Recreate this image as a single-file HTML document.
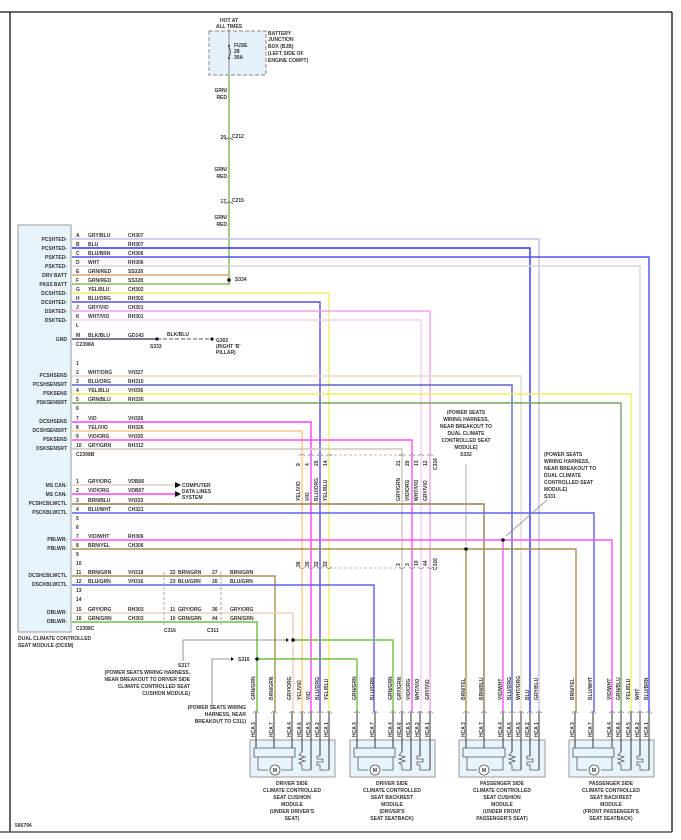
<!DOCTYPE html>
<html><head><meta charset="utf-8"><style>
html,body{margin:0;padding:0;background:#fff;}
svg{display:block;}
text{font-family:"Liberation Sans",sans-serif;font-size:5px;font-weight:bold;fill:#333;}
.r{text-anchor:end;}
.m{text-anchor:middle;}
</style></head><body>
<svg width="681" height="840" viewBox="0 0 681 840" xmlns="http://www.w3.org/2000/svg">
<rect x="0" y="0" width="681" height="840" fill="#fff"/>
<!-- border -->
<line x1="0" y1="12" x2="672" y2="12" stroke="#111" stroke-width="1.3"/>
<line x1="10" y1="12" x2="10" y2="832" stroke="#111" stroke-width="1.3"/>
<line x1="672" y1="12" x2="672" y2="832" stroke="#111" stroke-width="1.3"/>
<line x1="0" y1="832" x2="672" y2="832" stroke="#555" stroke-width="1.5"/>

<!-- fuse box -->
<rect x="209" y="31" width="57" height="44" fill="#e6f2fb" stroke="#888" stroke-dasharray="4,2"/>
<text class="m" x="229" y="22">HOT AT</text>
<text class="m" x="229" y="28">ALL TIMES</text>
<line x1="229" y1="29" x2="229" y2="75" stroke="#888"/>
<circle cx="229" cy="46" r="1" fill="#222"/><circle cx="229" cy="58" r="1" fill="#222"/>
<path d="M229 47 q3 5 0 10" fill="none" stroke="#666"/>
<text x="234" y="47">FUSE</text><text x="234" y="53">28</text><text x="234" y="59">30A</text>
<text x="268" y="35">BATTERY</text><text x="268" y="41">JUNCTION</text><text x="268" y="48">BOX (BJB)</text><text x="268" y="55">(LEFT SIDE OF</text><text x="268" y="62">ENGINE COMPT)</text>
<line x1="229" y1="75" x2="229" y2="285" stroke="#8cbc60" stroke-width="1.5"/>
<text class="r" x="227" y="92">GRN/</text><text class="r" x="227" y="99">RED</text>
<text class="r" x="227" y="171">GRN/</text><text class="r" x="227" y="178">RED</text>
<text class="r" x="227" y="219">GRN/</text><text class="r" x="227" y="226">RED</text>
<path d="M225 140 q4 -4 8 0 M225 204 q4 -4 8 0" fill="none" stroke="#777"/>
<text class="r" x="226" y="139">29</text><text x="232" y="138">C212</text>
<text class="r" x="226" y="203">17</text><text x="232" y="202">C215</text>

<!-- module -->
<rect x="18" y="225" width="53" height="407" fill="#e8f4fc" stroke="#999"/>
<g>
<text class="r" x="67" y="241">PCSHTED-</text><text class="r" x="67" y="250">PCSHTED-</text><text class="r" x="67" y="259">PSKTED-</text><text class="r" x="67" y="268">PSKTED-</text><text class="r" x="67" y="277">DRV BATT</text><text class="r" x="67" y="286">PASS BATT</text><text class="r" x="67" y="295">DCSHTED-</text><text class="r" x="67" y="304">DCSHTED-</text><text class="r" x="67" y="313">DSKTED-</text><text class="r" x="67" y="322">DSKTED-</text><text class="r" x="67" y="341">GND</text>
<text class="r" x="67" y="377">PCSHSENS</text><text class="r" x="67" y="386">PCSHSENSRT</text><text class="r" x="67" y="395">PSKSENS</text><text class="r" x="67" y="404">PSKSENSRT</text><text class="r" x="67" y="423">DCSHSENS</text><text class="r" x="67" y="432">DCSHSENSRT</text><text class="r" x="67" y="441">PSKSENS</text><text class="r" x="67" y="450">DSKSENSRT</text>
<text class="r" x="67" y="487">MS CAN-</text><text class="r" x="67" y="496">MS CAN-</text><text class="r" x="67" y="505">PCSHCBLWCTL</text><text class="r" x="67" y="514">PSCKBLWCTL</text><text class="r" x="67" y="541">PBLWR-</text><text class="r" x="67" y="550">PBLWR-</text><text class="r" x="67" y="577">DCSHCBLWCTL</text><text class="r" x="67" y="586">DSCKBLWCTL</text><text class="r" x="67" y="614">DBLWR-</text><text class="r" x="67" y="623">DBLWR-</text>
</g>
<text x="18" y="640">DUAL CLIMATE CONTROLLED</text>
<text x="18" y="647">SEAT MODULE (DCSM)</text>
<text x="15" y="827">566794</text>

<!-- horizontal wires connector A -->
<g fill="none" stroke-width="1.4">
<path d="M72 239 H539 V712" stroke="#c0c0e8"/>
<path d="M72 248 H530 V712" stroke="#3030ff"/>
<path d="M72 257 H649 V712" stroke="#5050ee"/>
<path d="M72 266 H640 V712" stroke="#d8d8d8"/>
<path d="M72 275 H229" stroke="#e8a070"/>
<path d="M72 284 H229" stroke="#8cbc60"/>
<path d="M72 293 H329 V712" stroke="#eeee70"/>
<path d="M72 302 H320 V712" stroke="#5a50e0"/>
<path d="M72 311 H430 V712" stroke="#f0a0f0"/>
<path d="M72 320 H421 V712" stroke="#f4cdf4"/>
<path d="M72 339 H157" stroke="#555570"/>
<path d="M157 339 H212" stroke="#555" stroke-dasharray="4,2" stroke-width="1"/>
<!-- connector B -->
<path d="M72 376 H521 V712" stroke="#e8d8c8"/>
<path d="M72 385 H512 V712" stroke="#6060d0"/>
<path d="M72 394 H631 V712" stroke="#eeee60"/>
<path d="M72 403 H621 V712" stroke="#70a860"/>
<path d="M72 422 H311 V712" stroke="#ff40ff"/>
<path d="M72 431 H302 V712" stroke="#ffc880"/>
<path d="M72 440 H412 V712" stroke="#ff50ff"/>
<path d="M72 449 H402 V712" stroke="#cfc6b8"/>
<!-- connector C -->
<path d="M72 485 H175" stroke="#e0d0c8"/>
<path d="M72 494 H175" stroke="#ff40ff"/>
<path d="M72 504 H484 V712" stroke="#9a7a50"/>
<path d="M72 513 H594 V712" stroke="#6060ee"/>
<path d="M72 540 H612 V712" stroke="#ff50ff"/>
<path d="M503 540 V712" stroke="#ff50ff"/>
<path d="M72 549 H576 V712" stroke="#aa9050"/>
<path d="M466 549 V712" stroke="#aa9050"/>
<path d="M72 576 H275 V712" stroke="#aa9050"/>
<path d="M72 585 H374 V712" stroke="#6060ee"/>
<path d="M72 613 H293 V712" stroke="#f0d0b8"/>
<path d="M72 622 H257 V712" stroke="#70c040"/>
<path d="M293 640 H393 V712" stroke="#70c040"/>
<path d="M257 659 H357 V712" stroke="#70c040"/>
</g>
<circle cx="229" cy="280" r="1.8" fill="#111"/><text x="235" y="281">S334</text>
<circle cx="157" cy="339" r="1.6" fill="#111"/><text x="150" y="348">S333</text>
<circle cx="212" cy="339" r="1.6" fill="#111"/><text x="216" y="342">G302</text><text x="216" y="348">(RIGHT 'B'</text><text x="216" y="354">PILLAR)</text>
<path d="M175 482 l6 3 l-6 3z M175 491 l6 3 l-6 3z" fill="#111"/>
<text x="182" y="487">COMPUTER</text><text x="182" y="493">DATA LINES</text><text x="182" y="499">SYSTEM</text>

<!-- module row labels -->
<g>
<text x="76" y="237">A</text><text x="88" y="237">GRY/BLU</text><text x="128" y="237">CH307</text>
<text x="76" y="246">B</text><text x="88" y="246">BLU</text><text x="128" y="246">RH307</text>
<text x="76" y="255">C</text><text x="88" y="255">BLU/BRN</text><text x="128" y="255">CH306</text>
<text x="76" y="264">D</text><text x="88" y="264">WHT</text><text x="128" y="264">RH306</text>
<text x="76" y="273">E</text><text x="88" y="273">GRN/RED</text><text x="128" y="273">SS328</text>
<text x="76" y="282">F</text><text x="88" y="282">GRN/RED</text><text x="128" y="282">SS328</text>
<text x="76" y="291">G</text><text x="88" y="291">YEL/BLU</text><text x="128" y="291">CH302</text>
<text x="76" y="300">H</text><text x="88" y="300">BLU/ORG</text><text x="128" y="300">RH302</text>
<text x="76" y="309">J</text><text x="88" y="309">GRY/VIO</text><text x="128" y="309">CH301</text>
<text x="76" y="318">K</text><text x="88" y="318">WHT/VIO</text><text x="128" y="318">RH301</text>
<text x="76" y="327">L</text>
<text x="76" y="337">M</text><text x="88" y="337">BLK/BLU</text><text x="128" y="337">GD143</text><text x="167" y="336">BLK/BLU</text>
<text x="76" y="346">C2398A</text>
<text x="76" y="365">1</text>
<text x="76" y="374">2</text><text x="88" y="374">WHT/ORG</text><text x="128" y="374">VH327</text>
<text x="76" y="383">3</text><text x="88" y="383">BLU/ORG</text><text x="128" y="383">RH310</text>
<text x="76" y="392">4</text><text x="88" y="392">YEL/BLU</text><text x="128" y="392">VH336</text>
<text x="76" y="401">5</text><text x="88" y="401">GRN/BLU</text><text x="128" y="401">RH330</text>
<text x="76" y="410">6</text>
<text x="76" y="420">7</text><text x="88" y="420">VIO</text><text x="128" y="420">VH326</text>
<text x="76" y="429">8</text><text x="88" y="429">YEL/VIO</text><text x="128" y="429">RH326</text>
<text x="76" y="438">9</text><text x="88" y="438">VIO/ORG</text><text x="128" y="438">VH335</text>
<text x="76" y="447">10</text><text x="88" y="447">GRY/GRN</text><text x="128" y="447">RH312</text>
<text x="76" y="456">C2398B</text>
<text x="76" y="483">1</text><text x="88" y="483">GRY/ORG</text><text x="128" y="483">VDB06</text>
<text x="76" y="492">2</text><text x="88" y="492">VIO/ORG</text><text x="128" y="492">VDB07</text>
<text x="76" y="502">3</text><text x="88" y="502">BRN/BLU</text><text x="128" y="502">VH333</text>
<text x="76" y="511">4</text><text x="88" y="511">BLU/WHT</text><text x="128" y="511">CH321</text>
<text x="76" y="520">5</text><text x="76" y="529">6</text>
<text x="76" y="538">7</text><text x="88" y="538">VIO/WHT</text><text x="128" y="538">RH306</text>
<text x="76" y="547">8</text><text x="88" y="547">BRN/YEL</text><text x="128" y="547">CH306</text>
<text x="76" y="556">9</text><text x="76" y="565">10</text>
<text x="76" y="574">11</text><text x="88" y="574">BRN/GRN</text><text x="128" y="574">VH318</text>
<text x="76" y="583">12</text><text x="88" y="583">BLU/GRN</text><text x="128" y="583">VH316</text>
<text x="76" y="592">13</text><text x="76" y="601">14</text>
<text x="76" y="611">15</text><text x="88" y="611">GRY/ORG</text><text x="128" y="611">RH303</text>
<text x="76" y="620">16</text><text x="88" y="620">GRN/GRN</text><text x="128" y="620">CH303</text>
<text x="76" y="630">C2398C</text>
</g>
<!-- C316 / C311 -->
<g>
<line x1="164" y1="572" x2="164" y2="626" stroke="#aaa" stroke-dasharray="3,2"/>
<line x1="221" y1="572" x2="221" y2="626" stroke="#aaa" stroke-dasharray="3,2"/>
<text x="170" y="574">22</text><text x="178" y="574">BRN/GRN</text><text x="212" y="574">27</text><text x="230" y="574">BRN/GRN</text>
<text x="170" y="583">23</text><text x="178" y="583">BLU/GRN</text><text x="212" y="583">26</text><text x="230" y="583">BLU/GRN</text>
<text x="170" y="611">11</text><text x="178" y="611">GRY/ORG</text><text x="212" y="611">36</text><text x="230" y="611">GRY/ORG</text>
<text x="170" y="620">10</text><text x="178" y="620">GRN/GRN</text><text x="212" y="620">44</text><text x="230" y="620">GRN/GRN</text>
<text x="164" y="632">C316</text><text x="207" y="632">C311</text>
</g>
<!-- connectors at 455 and 568 -->
<line x1="329" y1="455" x2="402" y2="455" stroke="#bbb" stroke-dasharray="3,2"/>
<line x1="329" y1="568" x2="402" y2="568" stroke="#bbb" stroke-dasharray="3,2"/>
<g fill="none" stroke="#888" stroke-width="0.8">
<path d="M299 456 q3 -3 6 0 M308 456 q3 -3 6 0 M317 456 q3 -3 6 0 M326 456 q3 -3 6 0 M399 456 q3 -3 6 0 M409 456 q3 -3 6 0 M418 456 q3 -3 6 0 M427 456 q3 -3 6 0"/>
<path d="M299 567 q3 3 6 0 M308 567 q3 3 6 0 M317 567 q3 3 6 0 M326 567 q3 3 6 0 M399 567 q3 3 6 0 M409 567 q3 3 6 0 M418 567 q3 3 6 0 M427 567 q3 3 6 0"/>
</g>
<g>
<text transform="translate(300,466) rotate(-90)">9</text><text transform="translate(309,466) rotate(-90)">4</text><text transform="translate(318,466) rotate(-90)">25</text><text transform="translate(327,466) rotate(-90)">14</text>
<text transform="translate(400,466) rotate(-90)">21</text><text transform="translate(409,466) rotate(-90)">20</text><text transform="translate(418,466) rotate(-90)">13</text><text transform="translate(427,466) rotate(-90)">12</text><text transform="translate(437,470) rotate(-90)">C316</text>
<text transform="translate(300,501) rotate(-90)">YEL/VIO</text><text transform="translate(309,501) rotate(-90)">VIO</text><text transform="translate(318,501) rotate(-90)">BLU/ORG</text><text transform="translate(327,501) rotate(-90)">YEL/BLU</text>
<text transform="translate(400,501) rotate(-90)">GRY/GRN</text><text transform="translate(409,501) rotate(-90)">VIO/ORG</text><text transform="translate(418,501) rotate(-90)">WHT/VIO</text><text transform="translate(427,501) rotate(-90)">GRY/VIO</text>
<text transform="translate(300,567) rotate(-90)">36</text><text transform="translate(309,567) rotate(-90)">35</text><text transform="translate(318,567) rotate(-90)">32</text><text transform="translate(327,567) rotate(-90)">33</text>
<text transform="translate(400,566) rotate(-90)">3</text><text transform="translate(409,566) rotate(-90)">3</text><text transform="translate(418,566) rotate(-90)">10</text><text transform="translate(427,566) rotate(-90)">44</text><text transform="translate(437,570) rotate(-90)">C316</text>
</g>
<!-- splices -->
<circle cx="503" cy="540" r="1.8" fill="#111"/>
<circle cx="466" cy="549" r="1.8" fill="#111"/>
<line x1="466" y1="464" x2="466" y2="545" stroke="#999" stroke-width="0.8"/>
<g class="m">
<text class="m" x="466" y="414">(POWER SEATS</text><text class="m" x="466" y="421">WIRING HARNESS,</text><text class="m" x="466" y="428">NEAR BREAKOUT TO</text><text class="m" x="466" y="435">DUAL CLIMATE</text><text class="m" x="466" y="442">CONTROLLED SEAT</text><text class="m" x="466" y="449">MODULE)</text><text class="m" x="466" y="456">S332</text>
</g>
<text x="544" y="456">(POWER SEATS</text><text x="544" y="463">WIRING HARNESS,</text><text x="544" y="470">NEAR BREAKOUT TO</text><text x="544" y="477">DUAL CLIMATE</text><text x="544" y="484">CONTROLLED SEAT</text><text x="544" y="491">MODULE)</text><text x="544" y="498">S331</text>
<line x1="547" y1="500" x2="506" y2="536" stroke="#888" stroke-width="0.8"/>
<circle cx="293" cy="640" r="1.8" fill="#111"/>
<circle cx="257" cy="659" r="1.8" fill="#111"/>
<path d="M183 661 V640 H288" fill="none" stroke="#777" stroke-width="0.8"/><path d="M286 638 l3 2 l-3 2z" fill="#111"/>
<path d="M212 706 V659 H233" fill="none" stroke="#777" stroke-width="0.8"/><path d="M231 657 l3 2 l-3 2z" fill="#111"/>
<text x="238" y="661">S316</text>
<text x="178" y="667">S317</text>
<text class="r" x="190" y="674">(POWER SEATS WIRING HARNESS,</text>
<text class="r" x="190" y="681">NEAR BREAKOUT TO DRIVER SIDE</text>
<text class="r" x="190" y="688">CLIMATE CONTROLLED SEAT</text>
<text class="r" x="190" y="695">CUSHION MODULE)</text>
<text class="r" x="246" y="709">(POWER SEATS WIRING</text>
<text class="r" x="246" y="716">HARNESS, NEAR</text>
<text class="r" x="246" y="723">BREAKOUT TO C311)</text>

<!-- bottom modules -->
<g id="mods">
<!-- box1 -->
<rect x="250" y="740" width="85" height="37" fill="#e8f4fc" stroke="#999"/>
<rect x="350" y="740" width="85" height="37" fill="#e8f4fc" stroke="#999"/>
<rect x="459" y="740" width="86" height="37" fill="#e8f4fc" stroke="#999"/>
<rect x="569" y="740" width="85" height="37" fill="#e8f4fc" stroke="#999"/>
</g>
<g stroke="#333" stroke-width="1" fill="none">
<!-- pin stubs -->
<path d="M256 712V748 M274 712V748 M292 712V748 M302 712V752 M311 712V770 M320 712V756 M329 712V770"/>
<path d="M357 712V748 M375 712V748 M393 712V748 M402 712V752 M411 712V770 M420 712V756 M430 712V770"/>
<path d="M466 712V748 M484 712V748 M503 712V748 M512 712V752 M521 712V770 M530 712V756 M539 712V770"/>
<path d="M575 712V748 M593 712V748 M612 712V748 M621 712V752 M631 712V770 M640 712V756 M649 712V770"/>
</g>
<g stroke="#555" stroke-width="0.8" fill="none">
<path d="M254 748h41v9h-41z M258 757V770H268 M282 770H292V757 M302 752 l-3 3 l6 2 l-6 2 l6 2 l-6 2 l3 2 V770 H311 M320 756 h-3 v3 h6 v3 h-6 v3 h3 v5 H329"/>
<path d="M354 748h41v9h-41z M358 757V770H368 M382 770H393V757 M402 752 l-3 3 l6 2 l-6 2 l6 2 l-6 2 l3 2 V770 H411 M420 756 h-3 v3 h6 v3 h-6 v3 h3 v5 H430"/>
<path d="M463 748h42v9h-42z M467 757V770H477 M491 770H503V757 M512 752 l-3 3 l6 2 l-6 2 l6 2 l-6 2 l3 2 V770 H521 M530 756 h-3 v3 h6 v3 h-6 v3 h3 v5 H539"/>
<path d="M573 748h41v9h-41z M577 757V770H587 M601 770H612V757 M621 752 l-3 3 l6 2 l-6 2 l6 2 l-6 2 l3 2 V770 H631 M640 756 h-3 v3 h6 v3 h-6 v3 h3 v5 H649"/>
</g>
<g fill="#fff" stroke="#555" stroke-width="0.8">
<circle cx="275" cy="770" r="5"/><circle cx="375" cy="770" r="5"/><circle cx="484" cy="770" r="5"/><circle cx="594" cy="770" r="5"/>
</g>
<text class="m" x="275" y="772">M</text><text class="m" x="375" y="772">M</text><text class="m" x="484" y="772">M</text><text class="m" x="594" y="772">M</text>
<g fill="none" stroke="#888" stroke-width="0.7">
<path d="M253 713q3 -3 6 0M271 713q3 -3 6 0M289 713q3 -3 6 0M299 713q3 -3 6 0M308 713q3 -3 6 0M317 713q3 -3 6 0M326 713q3 -3 6 0"/>
<path d="M354 713q3 -3 6 0M372 713q3 -3 6 0M390 713q3 -3 6 0M399 713q3 -3 6 0M408 713q3 -3 6 0M417 713q3 -3 6 0M427 713q3 -3 6 0"/>
<path d="M463 713q3 -3 6 0M481 713q3 -3 6 0M500 713q3 -3 6 0M509 713q3 -3 6 0M518 713q3 -3 6 0M527 713q3 -3 6 0M536 713q3 -3 6 0"/>
<path d="M572 713q3 -3 6 0M590 713q3 -3 6 0M609 713q3 -3 6 0M618 713q3 -3 6 0M628 713q3 -3 6 0M637 713q3 -3 6 0M646 713q3 -3 6 0"/>
</g>
<!-- pin labels -->
<g font-size="4.5">
<text transform="translate(255,737) rotate(-90)">HCA  3</text><text transform="translate(273,737) rotate(-90)">HCA  7</text><text transform="translate(291,737) rotate(-90)">HCA  4</text><text transform="translate(301,737) rotate(-90)">HCA  6</text><text transform="translate(310,737) rotate(-90)">HCA  5</text><text transform="translate(319,737) rotate(-90)">HCA  2</text><text transform="translate(328,737) rotate(-90)">HCA  1</text>
<text transform="translate(356,737) rotate(-90)">HCA  3</text><text transform="translate(374,737) rotate(-90)">HCA  7</text><text transform="translate(392,737) rotate(-90)">HCA  4</text><text transform="translate(401,737) rotate(-90)">HCA  6</text><text transform="translate(410,737) rotate(-90)">HCA  5</text><text transform="translate(419,737) rotate(-90)">HCA  2</text><text transform="translate(429,737) rotate(-90)">HCA  1</text>
<text transform="translate(465,737) rotate(-90)">HCA  3</text><text transform="translate(483,737) rotate(-90)">HCA  7</text><text transform="translate(502,737) rotate(-90)">HCA  4</text><text transform="translate(511,737) rotate(-90)">HCA  6</text><text transform="translate(520,737) rotate(-90)">HCA  5</text><text transform="translate(529,737) rotate(-90)">HCA  2</text><text transform="translate(538,737) rotate(-90)">HCA  1</text>
<text transform="translate(574,737) rotate(-90)">HCA  3</text><text transform="translate(592,737) rotate(-90)">HCA  7</text><text transform="translate(611,737) rotate(-90)">HCA  4</text><text transform="translate(620,737) rotate(-90)">HCA  6</text><text transform="translate(630,737) rotate(-90)">HCA  5</text><text transform="translate(639,737) rotate(-90)">HCA  2</text><text transform="translate(648,737) rotate(-90)">HCA  1</text>
</g>
<g font-size="4.5">
<text transform="translate(255,700) rotate(-90)">GRN/GRN</text><text transform="translate(273,700) rotate(-90)">BRN/GRN</text><text transform="translate(291,700) rotate(-90)">GRY/ORG</text><text transform="translate(301,700) rotate(-90)">YEL/VIO</text><text transform="translate(310,700) rotate(-90)">VIO</text><text transform="translate(319,700) rotate(-90)">BLU/ORG</text><text transform="translate(328,700) rotate(-90)">YEL/BLU</text>
<text transform="translate(356,700) rotate(-90)">GRN/GRN</text><text transform="translate(374,700) rotate(-90)">BLU/GRN</text><text transform="translate(392,700) rotate(-90)">GRN/GRN</text><text transform="translate(401,700) rotate(-90)">GRY/GRN</text><text transform="translate(410,700) rotate(-90)">VIO/ORG</text><text transform="translate(419,700) rotate(-90)">WHT/VIO</text><text transform="translate(429,700) rotate(-90)">GRY/VIO</text>
<text transform="translate(465,700) rotate(-90)">BRN/YEL</text><text transform="translate(483,700) rotate(-90)">BRN/BLU</text><text transform="translate(502,700) rotate(-90)">VIO/WHT</text><text transform="translate(511,700) rotate(-90)">BLU/ORG</text><text transform="translate(520,700) rotate(-90)">WHT/ORG</text><text transform="translate(529,700) rotate(-90)">BLU</text><text transform="translate(538,700) rotate(-90)">GRY/BLU</text>
<text transform="translate(574,700) rotate(-90)">BRN/YEL</text><text transform="translate(592,700) rotate(-90)">BLU/WHT</text><text transform="translate(611,700) rotate(-90)">VIO/WHT</text><text transform="translate(620,700) rotate(-90)">GRN/BLU</text><text transform="translate(630,700) rotate(-90)">YEL/BLU</text><text transform="translate(639,700) rotate(-90)">WHT</text><text transform="translate(648,700) rotate(-90)">BLU/BRN</text>
</g>
<!-- module captions -->
<g>
<text class="m" x="292" y="785">DRIVER SIDE</text><text class="m" x="292" y="792">CLIMATE CONTROLLED</text><text class="m" x="292" y="799">SEAT CUSHION</text><text class="m" x="292" y="806">MODULE</text><text class="m" x="292" y="813">(UNDER DRIVER'S</text><text class="m" x="292" y="820">SEAT)</text>
<text class="m" x="392" y="785">DRIVER SIDE</text><text class="m" x="392" y="792">CLIMATE CONTROLLED</text><text class="m" x="392" y="799">SEAT BACKREST</text><text class="m" x="392" y="806">MODULE</text><text class="m" x="392" y="813">(DRIVER'S</text><text class="m" x="392" y="820">SEAT SEATBACK)</text>
<text class="m" x="502" y="785">PASSENGER SIDE</text><text class="m" x="502" y="792">CLIMATE CONTROLLED</text><text class="m" x="502" y="799">SEAT CUSHION</text><text class="m" x="502" y="806">MODULE</text><text class="m" x="502" y="813">(UNDER FRONT</text><text class="m" x="502" y="820">PASSENGER'S SEAT)</text>
<text class="m" x="611" y="785">PASSENGER SIDE</text><text class="m" x="611" y="792">CLIMATE CONTROLLED</text><text class="m" x="611" y="799">SEAT BACKREST</text><text class="m" x="611" y="806">MODULE</text><text class="m" x="611" y="813">(FRONT PASSENGER'S</text><text class="m" x="611" y="820">SEAT SEATBACK)</text>
</g>
</svg>
</body></html>
